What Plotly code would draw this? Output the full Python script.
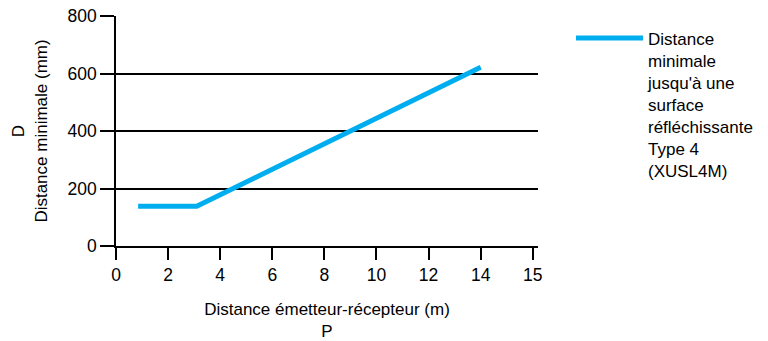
import plotly.graph_objects as go

# Data
distance_m = [0.85, 3.1, 14.0]
distance_min_mm = [138, 138, 622]

x_tickvals = [0, 2, 4, 6, 8, 10, 12, 14, 16]
x_ticktext = ["0", "2", "4", "6", "8", "10", "12", "14", "15"]
y_tickvals = [0, 200, 400, 600, 800]

series_name = ("Distance<br>minimale<br>jusqu'à une<br>surface<br>"
               "réfléchissante<br>Type 4<br>(XUSL4M)")

FONT = "Liberation Sans, Arial, sans-serif"

fig = go.Figure()
fig.add_trace(go.Scatter(
    x=distance_m, y=distance_min_mm, mode="lines", name=series_name,
    line=dict(color="#00aeef", width=5),
    showlegend=True,
))

fig.update_layout(
    width=768, height=341,
    paper_bgcolor="white", plot_bgcolor="white",
    font=dict(family=FONT, size=17, color="black"),
    margin=dict(l=116, r=230, t=16, b=95),
    showlegend=True,
    legend=dict(xref="container", yref="container", x=0.7435, y=0.94,
                xanchor="left", yanchor="top",
                valign="top", itemwidth=67, bgcolor="rgba(0,0,0,0)",
                font=dict(size=17, family=FONT)),
    xaxis=dict(
        range=[0, 16.2], tickvals=x_tickvals, ticktext=x_ticktext, automargin=False,
        showgrid=False, zeroline=False, showline=True, linecolor="black", linewidth=1.5,
        ticks="outside", ticklen=12, tickwidth=1.5, tickcolor="black",
        tickfont=dict(size=17.5),
        title=dict(text="Distance émetteur-récepteur (m)<br>P", font=dict(size=17), standoff=19),
    ),
    yaxis=dict(
        range=[0, 800], tickvals=y_tickvals, automargin=False,
        showgrid=True, gridcolor="black", gridwidth=1.5, zeroline=False,
        showline=True, linecolor="black", linewidth=1.5,
        ticks="outside", ticklen=14, tickwidth=1.5, tickcolor="black",
        tickfont=dict(size=17.5),
        title=dict(text="D<br>Distance minimale (mm)", font=dict(size=17), standoff=16),
    ),
)

# drop the default page margin so the figure sits at the window's top-left corner
fig.write_html("out.html", config={"displayModeBar": False},
               post_script="document.body.style.margin='0';")
